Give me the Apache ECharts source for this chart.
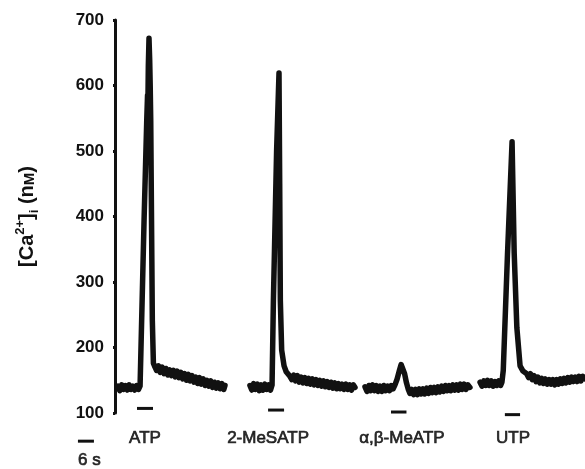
<!DOCTYPE html>
<html>
<head>
    <meta charset="utf-8">
    <title>[Ca2+]i responses</title>
    <script src="https://cdn.jsdelivr.net/npm/echarts@6/dist/echarts.min.js"></script>
    <style>
        html, body { margin: 0; padding: 0; background: #fff; }
        #chart { width: 585px; height: 469px; }
    </style>
</head>
<body>
    <div id="chart"></div>
    <script type="text/javascript">
        // time in s, [Ca2+]i in nM
        var atpTrace = [[1.1,141],[1.8,134],[2.5,143],[3.2,136],[3.9,142],[4.6,135],[5.3,143],[6,136],[6.7,141],[7.4,135],[8.1,142],[8.8,136],[9.4,141],[9.75,140],
            [10.9,394],[11.9,546],[12.2,585],[12.35,575],[12.5,630],[12.75,672],[13.0,640],[13.2,600],[13.4,546],[14.0,241],[14.4,176],[15,170],
            [15.6,165],[16.3,172],[17,162],[17.7,170],[18.4,160],[19.1,168],[19.8,158],[20.5,166],[21.2,157],[21.9,165],[22.6,155],[23.3,164],[24,154],[24.7,162],
            [25.4,152],[26.1,160],[26.8,150],[27.5,159],[28.2,149],[28.9,157],[29.6,147],[30.3,155],[31,145],[31.7,154],[32.4,144],[33.1,152],[33.8,142],[34.5,150],
            [35.2,141],[35.9,149],[36.6,139],[37.3,147],[38,138],[38.7,146],[39.4,137],[40.1,145],[40.8,136],[41.25,142]];
        var meSatpTrace = [[50.6,142],[51.3,135],[52,145],[52.7,136],[53.4,144],[54.1,134],[54.8,143],[55.5,135],[56.2,144],[56.9,136],[57.6,143],[58.3,135],[58.9,143],
            [59.4,272],[60.6,500],[61.5,619],[61.76,450],[62.0,272],[62.5,196],[63.4,172],[64.2,163],[64.9,160],[65.6,156],[66.3,151],[67,158],[67.7,149],[68.4,157],
            [69.1,147],[69.8,155],[70.5,146],[71.2,154],[71.9,145],[72.6,153],[73.3,144],[74,152],[74.7,143],[75.4,151],[76.1,142],[76.8,150],[77.5,141],[78.2,149],
            [78.9,140],[79.6,148],[80.3,139],[81,147],[81.7,138],[82.4,146],[83.1,137],[83.8,145],[84.5,137],[85.2,144],[85.9,136],[86.6,144],[87.3,136],[88,143],
            [88.7,135],[89.4,143],[90,139]];
        var abMeatpTrace = [[93.75,140],[94.5,133],[95.2,142],[95.9,134],[96.6,143],[97.3,134],[98,142],[98.7,133],[99.4,141],[100.1,133],[100.8,142],[101.5,134],
            [102.2,141],[102.9,134],[103.6,142],[104.3,137],[105,143],[105.8,152],[106.6,164],[107.3,174],[107.6,176],[108.0,172],[108.6,160],[109.3,146],[110,136],
            [110.6,130],[111.3,136],[112,128],[112.7,136],[113.4,128],[114.1,137],[114.8,129],[115.5,137],[116.2,129],[116.9,138],[117.6,130],[118.3,139],[119,131],
            [119.7,139],[120.4,131],[121.1,140],[121.8,132],[122.5,141],[123.2,133],[123.9,142],[124.6,134],[125.3,142],[126,134],[126.7,143],[127.4,135],[128.1,143],
            [128.8,135],[129.5,144],[130.2,136],[130.9,144],[131.6,136],[132.3,143],[133.1,139]];
        var utpTrace = [[136.9,147],[137.6,141],[138.3,149],[139,142],[139.7,150],[140.4,142],[141.1,149],[141.8,141],[142.5,148],[143.2,142],[143.9,149],[144.6,142],
            [145.1,147],[145.6,165],[147.2,344],[148.9,514],[149.7,344],[150.7,230],[151.9,172],[153,164],[154.4,160],[155.1,154],[155.8,160],[156.5,151],[157.2,157],
            [157.9,148],[158.6,155],[159.3,146],[160,153],[160.7,145],[161.4,152],[162.1,144],[162.8,151],[163.5,144],[164.2,151],[164.9,143],[165.6,151],[166.3,144],
            [167,152],[167.7,145],[168.4,153],[169.1,146],[169.8,154],[170.5,147],[171.2,155],[171.9,148],[172.6,155],[173.3,148],[174,156],[174.7,149],[175.4,156],
            [176.25,152]];

        // agonist application bars: [start, end, level]
        var stimBars = [[8.25,14.25,107],[57.4,63.4,104.5],[103.5,109.3,101.5],[146.2,151.9,97.5]];
        var scaleBar = [-13.9,-7.9,57];

        var agonistNames = ['ATP','2-MeSATP','α,β-MeATP','UTP'];
        var agonistLabelX = [11.25,57.4,107.6,149.25];
        var agonistLabelY = 62;
        var scaleLabel = {name:'6 s', value:[-9.6,28]};

        var yTicks = [100,200,300,400,500,600,700];

        var fontFamily = '"Liberation Sans", Arial, sans-serif';
        var myChart = echarts.init(document.getElementById('chart'));

        var traceStyle = {color:'#111', width:5.5, join:'round', cap:'round'};
        var series = [];
        [atpTrace, meSatpTrace, abMeatpTrace, utpTrace].forEach(function (tr, i) {
            series.push({
                name: agonistNames[i], type: 'line', data: tr,
                showSymbol: false, clip: false,
                lineStyle: traceStyle
            });
        });
        stimBars.concat([scaleBar]).forEach(function (b) {
            series.push({
                type: 'line', data: [[b[0], b[2]], [b[1], b[2]]],
                showSymbol: false, clip: false,
                lineStyle: {color:'#111', width:3}
            });
        });
        var labelData = agonistNames.map(function (n, i) {
            return {name: n, value: [agonistLabelX[i], agonistLabelY]};
        });
        labelData.push(scaleLabel);
        series.push({
            type: 'scatter', data: labelData, symbolSize: 1, clip: false,
            itemStyle: {color: 'rgba(0,0,0,0)'},
            label: {
                show: true, position: 'inside', formatter: '{b}',
                color: '#000', fontSize: 17, fontFamily: fontFamily,
                textBorderColor: '#000', textBorderWidth: 0.7
            }
        });

        var option = {
            animation: false,
            backgroundColor: '#fff',
            grid: {left: 67, right: 0, top: 20, bottom: 56, outerBoundsMode: 'none', containLabel: false},
            xAxis: {type: 'value', min: -18, max: 176.25, show: false},
            yAxis: {
                type: 'value', min: yTicks[0], max: yTicks[yTicks.length - 1], interval: 100,
                offset: -48,
                axisLine: {show: true, onZero: false, lineStyle: {color: '#111', width: 3}},
                axisTick: {show: true, length: 2, lineStyle: {color: '#111', width: 3}},
                splitLine: {show: false},
                axisLabel: {
                    color: '#111', fontSize: 17, fontWeight: 'bold', fontFamily: fontFamily, margin: 11
                },
                name: '{m|[Ca}{sup|2+}{m|]}{sub|i}{m| (n}{sc|M}{m|)}',
                nameLocation: 'middle',
                nameGap: 74,
                nameTextStyle: {
                    color: '#111', fontFamily: fontFamily, fontWeight: 'bold', fontSize: 20,
                    rich: {
                        m: {fontSize: 20, fontWeight: 'bold', fontFamily: fontFamily, color: '#111', lineHeight: 30, verticalAlign: 'bottom', padding: [0,0,4,0]},
                        sup: {fontSize: 13, fontWeight: 'bold', fontFamily: fontFamily, color: '#111', verticalAlign: 'bottom', padding: [0,0,14,0]},
                        sub: {fontSize: 13, fontWeight: 'bold', fontFamily: fontFamily, color: '#111', verticalAlign: 'bottom', padding: [0,0,0,0]},
                        sc: {fontSize: 15, fontWeight: 'bold', fontFamily: fontFamily, color: '#111', verticalAlign: 'bottom', padding: [0,0,4,0]}
                    }
                }
            },
            series: series
        };

        myChart.setOption(option);
    </script>
</body>
</html>
